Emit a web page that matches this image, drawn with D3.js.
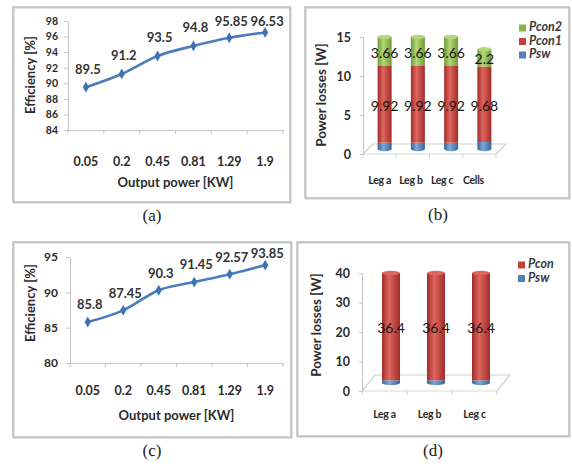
<!DOCTYPE html>
<html><head><meta charset="utf-8">
<script src="https://cdn.jsdelivr.net/npm/d3@7"></script>
<style>
html,body{margin:0;padding:0;background:#fff;}
svg{display:block;}
</style></head>
<body>
<svg id="chart" width="572" height="466"></svg>
<script>
// ---- data ----
const powerLabels = ["0.05", "0.2", "0.45", "0.81", "1.29", "1.9"];
const effA = [89.5, 91.2, 93.5, 94.8, 95.85, 96.53];
const effC = [85.8, 87.45, 90.3, 91.45, 92.57, 93.85];
const yTicksA = [84, 86, 88, 90, 92, 94, 96, 98];
const yTicksC = [80, 85, 90, 95];

const legsB = ["Leg a", "Leg b", "Leg c", "Cells"];
const pswB = [0.8, 0.8, 0.8, 0.9];
const pcon1B = [9.92, 9.92, 9.92, 9.68];
const pcon2B = [3.66, 3.66, 3.66, 2.2];
const yTicksB = [0, 5, 10, 15];

const legsD = ["Leg a", "Leg b", "Leg c"];
const pswD = [0.9, 0.9, 0.9];
const pconD = [36.4, 36.4, 36.4];
const yTicksD = [0, 10, 20, 30, 40];

const captions = ["(a)", "(b)", "(c)", "(d)"];

// ---- drawing ----
const svg = d3.select("#chart");
const FONT = "Lato, 'Open Sans', sans-serif";
const AXIS_GREY = "#c4c4c4";
const TEXT = "#2b2b2b";

// gradients
const defs = svg.append("defs");
const palette = {
  green: ["#6f9a33", "#b3d77a", "#86b944"],
  red:   ["#9e2d29", "#e0655e", "#c63f3a"],
  blue:  ["#35649a", "#7fa8da", "#4f81bd"]
};
Object.entries(palette).forEach(([k, c]) => {
  const gr = defs.append("linearGradient").attr("id", "g-" + k)
    .attr("x1", "0%").attr("x2", "100%").attr("y1", "0%").attr("y2", "0%");
  gr.append("stop").attr("offset", "0%").attr("stop-color", c[0]);
  gr.append("stop").attr("offset", "40%").attr("stop-color", c[1]);
  gr.append("stop").attr("offset", "100%").attr("stop-color", c[0]);
});

function box(x0, y0, x1, y1) {
  svg.append("rect").attr("x", x0 + 1).attr("y", y0 + 1).attr("width", x1 - x0).attr("height", y1 - y0)
    .attr("fill", "none").attr("stroke", "#e2e2e2").attr("stroke-width", 2);
  svg.append("rect").attr("x", x0).attr("y", y0).attr("width", x1 - x0).attr("height", y1 - y0)
    .attr("fill", "none").attr("stroke", "#bdbdbd").attr("stroke-width", 1.5);
}

function caption(text, x, y) {
  svg.append("text").attr("x", x).attr("y", y).attr("text-anchor", "middle")
    .attr("dominant-baseline", "middle")
    .attr("font-family", "'Liberation Serif', 'DejaVu Serif', serif")
    .attr("font-size", 17).attr("fill", "#222").text(text);
}

function linePanel(o) {
  const g = svg.append("g");
  const x = d3.scaleBand().domain(powerLabels).range(o.xRange);
  const y = d3.scaleLinear().domain(o.yDomain).range(o.yRange);
  const axisY = y(o.yDomain[0]);

  // y axis
  const ya = g.append("g").attr("transform", `translate(${o.xRange[0]},0)`)
    .call(d3.axisLeft(y).tickValues(o.ticks).tickSize(4).tickPadding(o.yPad).tickSizeOuter(0));
  ya.select(".domain").attr("stroke", AXIS_GREY);
  ya.selectAll(".tick line").attr("stroke", AXIS_GREY);
  ya.selectAll(".tick text").attr("font-family", FONT).attr("font-size", o.yFont)
    .attr("font-weight", "bold").attr("fill", TEXT);

  // x axis
  const xa = g.append("g").attr("transform", `translate(0,${axisY})`)
    .call(d3.axisBottom(x).tickSize(0).tickPadding(o.xPad).tickSizeOuter(0));
  xa.select(".domain").attr("stroke", AXIS_GREY).attr("stroke-width", 1.2);
  xa.selectAll(".tick text").attr("font-family", FONT).attr("font-size", 12.5)
    .attr("font-weight", "bold").attr("fill", TEXT);
  const edges = d3.range(powerLabels.length + 1).map(i => o.xRange[0] + i * x.step());
  g.selectAll(".xt").data(edges).enter().append("line")
    .attr("x1", d => d).attr("x2", d => d).attr("y1", axisY).attr("y2", axisY + 4)
    .attr("stroke", AXIS_GREY);

  // line
  const pts = o.vals.map((v, i) => [x(powerLabels[i]) + x.bandwidth() / 2, y(v)]);
  g.append("path").attr("d", d3.line().curve(d3.curveMonotoneX)(pts))
    .attr("fill", "none").attr("stroke", "#4a7ebb").attr("stroke-width", 2.6);
  g.selectAll(".mk").data(pts).enter().append("path")
    .attr("transform", d => `translate(${d[0]},${d[1]})`)
    .attr("d", d3.symbol(d3.symbolDiamond, 34))
    .attr("fill", "#3f72b0");

  // labels
  g.selectAll(".lb").data(o.vals).enter().append("text")
    .attr("x", (d, i) => pts[i][0] + 2)
    .attr("y", (d, i) => Math.max(o.labelMin, pts[i][1] - o.labelOff))
    .attr("text-anchor", "middle").attr("dominant-baseline", "middle")
    .attr("font-family", FONT).attr("font-size", 13).attr("font-weight", "bold")
    .attr("fill", "#333").text(d => d);

  // titles
  g.append("text").attr("x", (o.xRange[0] + o.xRange[1]) / 2).attr("y", o.titleY)
    .attr("text-anchor", "middle").attr("dominant-baseline", "middle")
    .attr("font-family", FONT).attr("font-size", 13).attr("font-weight", "bold")
    .attr("fill", TEXT).text("Output power [KW]");
  g.append("text").attr("transform", `translate(${o.ytX},${o.ytY}) rotate(-90)`)
    .attr("text-anchor", "middle").attr("dominant-baseline", "middle")
    .attr("font-family", FONT).attr("font-size", 13).attr("font-weight", "bold")
    .attr("fill", TEXT).text("Efficiency [%]");
}

function barPanel(o) {
  const g = svg.append("g");
  const x = d3.scaleBand().domain(o.cats).range(o.xRange);
  const y = d3.scaleLinear().domain(o.yDomain).range(o.yRange);
  const baseY = y(0);
  const dx = o.dx, dy = o.dy;

  // floor
  const x0 = o.xRange[0], x1 = o.xRange[1];
  g.append("path")
    .attr("d", `M${x0},${baseY} L${x0 + 2 * dx},${baseY - 2 * dy} L${x1 + 2 * dx},${baseY - 2 * dy} L${x1},${baseY}`)
    .attr("fill", "none").attr("stroke", "#d0d0d0").attr("stroke-width", 1.2);
  g.append("line").attr("x1", x0).attr("x2", x1).attr("y1", baseY).attr("y2", baseY)
    .attr("stroke", "#d8d8d8");
  const edges = d3.range(o.cats.length + 1).map(i => x0 + i * x.step());
  g.selectAll(".xt").data(edges).enter().append("line")
    .attr("x1", d => d).attr("x2", d => d).attr("y1", baseY).attr("y2", baseY + 4)
    .attr("stroke", "#d0d0d0");

  // y axis
  const ya = g.append("g").attr("transform", `translate(${x0},0)`)
    .call(d3.axisLeft(y).tickValues(o.ticks).tickSize(3).tickPadding(9).tickSizeOuter(0));
  ya.select(".domain").attr("stroke", AXIS_GREY);
  ya.selectAll(".tick line").attr("stroke", AXIS_GREY);
  ya.selectAll(".tick text").attr("font-family", FONT).attr("font-size", 12.5)
    .attr("font-weight", "bold").attr("fill", TEXT);

  // category labels
  g.selectAll(".cl").data(o.cats).enter().append("text")
    .attr("x", (d, i) => x(d) + x.bandwidth() / 2 + o.catShift * i)
    .attr("y", o.catY).attr("text-anchor", "middle").attr("dominant-baseline", "middle")
    .attr("font-family", FONT).attr("font-size", 10.5).attr("font-weight", "bold")
    .attr("letter-spacing", -0.3).attr("fill", TEXT).text(d => d);

  // stacked bars
  const stack = d3.stack().keys(o.series.map(s => s.key))(
    o.cats.map((c, i) => Object.fromEntries(o.series.map(s => [s.key, s.values[i]]))));
  const w = o.barW;
  stack.forEach((layer, li) => {
    const s = o.series[li];
    layer.forEach((d, i) => {
      const cx = x(o.cats[i]) + x.bandwidth() / 2 + dx;
      const yt = y(d[1]) - dy, yb = y(d[0]) - dy;
      g.append("rect").attr("x", cx - w / 2).attr("y", yt).attr("width", w).attr("height", yb - yt)
        .attr("fill", `url(#g-${s.color})`);
      if (li === 0) g.append("ellipse").attr("cx", cx).attr("cy", yb).attr("rx", w / 2).attr("ry", 2.2)
        .attr("fill", `url(#g-${s.color})`);
      if (li === stack.length - 1) g.append("ellipse").attr("cx", cx).attr("cy", yt).attr("rx", w / 2).attr("ry", 2.2)
        .attr("fill", palette[s.color][1]);
      if (s.label) {
        g.append("text").attr("x", cx).attr("y", (yt + yb) / 2 + s.labelShift)
          .attr("text-anchor", "middle").attr("dominant-baseline", "middle")
          .attr("font-family", FONT).attr("font-size", 14).attr("fill", "#161616")
          .text(s.values[i]);
      }
    });
  });

  // legend
  o.series.slice().reverse().forEach((s, i) => {
    const ly = o.legY + i * o.legStep;
    g.append("rect").attr("x", o.legX).attr("y", ly - 3.5).attr("width", 7).attr("height", 7)
      .attr("fill", palette[s.color][2]);
    g.append("text").attr("x", o.legX + 10).attr("y", ly).attr("dominant-baseline", "middle")
      .attr("font-family", FONT).attr("font-size", 12.5).attr("font-style", "italic")
      .attr("font-weight", "bold").attr("fill", "#3a3a3a").text(s.key);
  });

  g.append("text").attr("transform", `translate(${o.ytX},${o.ytY}) rotate(-90)`)
    .attr("text-anchor", "middle").attr("dominant-baseline", "middle")
    .attr("font-family", FONT).attr("font-size", 13.5).attr("font-weight", "bold")
    .attr("fill", TEXT).text("Power losses [W]");
}

// boxes
box(13, 7, 290, 202);
box(305, 7, 569, 198);
box(13, 242, 291, 437);
box(297, 242, 569, 436);

linePanel({
  vals: effA, ticks: yTicksA, yDomain: [84, 98], yRange: [130, 21],
  xRange: [68, 283], yPad: 6, yFont: 10.5, xPad: 27, titleY: 184,
  labelOff: 17, labelMin: 23, ytX: 32, ytY: 75
});
linePanel({
  vals: effC, ticks: yTicksC, yDomain: [80, 95], yRange: [363, 257],
  xRange: [70, 283], yPad: 8, yFont: 12, xPad: 23, titleY: 417,
  labelOff: 16, labelMin: 255, ytX: 32, ytY: 303
});

barPanel({
  cats: legsB, xRange: [363, 496], yDomain: [0, 15], yRange: [154, 37], ticks: yTicksB,
  dx: 5, dy: 5, barW: 14, catY: 181, catShift: -2,
  series: [
    { key: "Psw", values: pswB, color: "blue", label: false },
    { key: "Pcon1", values: pcon1B, color: "red", label: true, labelShift: 3 },
    { key: "Pcon2", values: pcon2B, color: "green", label: true, labelShift: 3 }
  ],
  legX: 519, legY: 28, legStep: 13.5, ytX: 323, ytY: 95
});
barPanel({
  cats: legsD, xRange: [362, 497], yDomain: [0, 40], yRange: [391, 273], ticks: yTicksD,
  dx: 6.5, dy: 8, barW: 18, catY: 415, catShift: 0,
  series: [
    { key: "Psw", values: pswD, color: "blue", label: false },
    { key: "Pcon", values: pconD, color: "red", label: true, labelShift: 3 }
  ],
  legX: 518, legY: 265, legStep: 13.5, ytX: 318, ytY: 325
});

caption(captions[0], 152, 217);
caption(captions[1], 438, 216);
caption(captions[2], 152, 452);
caption(captions[3], 433, 452);
</script>
</body></html>
